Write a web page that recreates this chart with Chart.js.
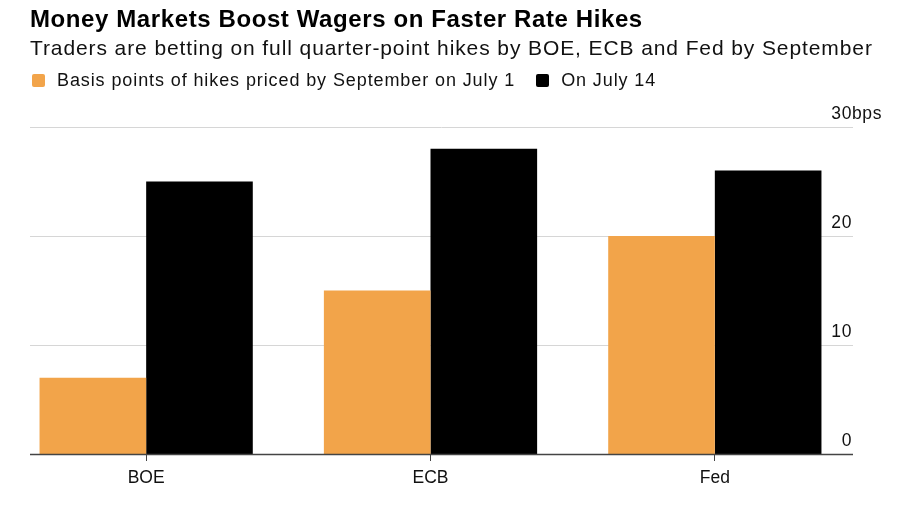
<!DOCTYPE html>
<html>
<head>
<meta charset="utf-8">
<script src="https://cdn.jsdelivr.net/npm/chart.js@4/dist/chart.umd.min.js"></script>
<style>
  body { margin: 0; background: #fff; font-family: "Liberation Sans", Arial, sans-serif; color: #000; }
  #wrap { position: relative; width: 900px; height: 510px; }
  canvas { position: absolute; left: 0; top: 0; }
  .title { position: absolute; left: 30px; top: 5px; font-weight: bold; font-size: 24px; letter-spacing: 0.6px; white-space: nowrap; }
  .subtitle { position: absolute; left: 30px; top: 36px; font-size: 21px; letter-spacing: 0.9px; white-space: nowrap; color: #111; }
  .legend { position: absolute; left: 32px; top: 70px; font-size: 18px; letter-spacing: 0.9px; white-space: nowrap; color: #111; }
  .legend span.item { display: inline-block; margin-right: 21px; }
  .legend i { display: inline-block; width: 13px; height: 13px; border-radius: 2px; vertical-align: -1px; margin-right: 12px; }
</style>
</head>
<body>
<div id="wrap">
  <canvas id="chart" width="900" height="510"></canvas>
  <div class="title">Money Markets Boost Wagers on Faster Rate Hikes</div>
  <div class="subtitle">Traders are betting on full quarter-point hikes by BOE, ECB and Fed by September</div>
  <div class="legend" id="legend"></div>
</div>
<script>
// data
const categories = ["BOE", "ECB", "Fed"];
const seriesNames = ["Basis points of hikes priced by September on July 1", "On July 14"];
const july1 = [7, 15, 20];
const july14 = [25, 28, 26];
const yTicks = [0, 10, 20, 30];
const colors = ["#f2a44a", "#000000"];

// legend
document.getElementById("legend").innerHTML = seriesNames
  .map((n, i) => `<span class="item"><i style="background:${colors[i]}"></i>${n}</span>`)
  .join("");

// grid lines + right side labels, drawn from the y scale
const gridPlugin = {
  id: "bbgGrid",
  beforeDatasetsDraw(chart) {
    const { ctx } = chart;
    const y = chart.scales.y;
    ctx.save();
    ctx.strokeStyle = "#d6d6d6";
    ctx.lineWidth = 1;
    yTicks.forEach((v) => {
      if (v === 0) return;
      const py = Math.round(y.getPixelForValue(v)) + 0.5;
      ctx.beginPath();
      ctx.moveTo(30, py);
      ctx.lineTo(853, py);
      ctx.stroke();
    });
    ctx.fillStyle = "#111";
    ctx.font = '17.5px "Liberation Sans", Arial, sans-serif';
    ctx.letterSpacing = "0.6px";
    ctx.textBaseline = "alphabetic";
    yTicks.forEach((v) => {
      const py = y.getPixelForValue(v) - 8;
      ctx.textAlign = "right";
      ctx.fillText(String(v), 852, py);
      if (v === yTicks[yTicks.length - 1]) {
        ctx.textAlign = "left";
        ctx.fillText("bps", 852, py);
      }
    });
    ctx.restore();
  },
  afterDatasetsDraw(chart) {
    const { ctx } = chart;
    const py = Math.round(chart.scales.y.getPixelForValue(0)) + 0.5;
    ctx.save();
    ctx.strokeStyle = "#444";
    ctx.lineWidth = 1.5;
    ctx.beginPath();
    ctx.moveTo(30, py);
    ctx.lineTo(853, py);
    ctx.stroke();
    ctx.restore();
  },
};

const ctx = document.getElementById("chart").getContext("2d");
new Chart(ctx, {
  type: "bar",
  data: {
    labels: categories,
    datasets: [
      { label: seriesNames[0], data: july1, backgroundColor: colors[0] },
      { label: seriesNames[1], data: july14, backgroundColor: colors[1] },
    ],
  },
  options: {
    responsive: false,
    animation: false,
    layout: { padding: { top: 127, left: 4, right: 43, bottom: 14 } },
    datasets: { bar: { categoryPercentage: 0.75, barPercentage: 1 } },
    plugins: { legend: { display: false }, tooltip: { enabled: false } },
    scales: {
      x: {
        grid: { offset: false, drawOnChartArea: false, drawTicks: true, tickLength: 7, tickColor: "#444" },
        border: { display: false },
        ticks: { color: "#111", padding: 7, font: { family: '"Liberation Sans", Arial, sans-serif', size: 17.5 } },
      },
      y: { display: false, min: 0, max: 30 },
    },
  },
  plugins: [gridPlugin],
});
</script>
</body>
</html>
